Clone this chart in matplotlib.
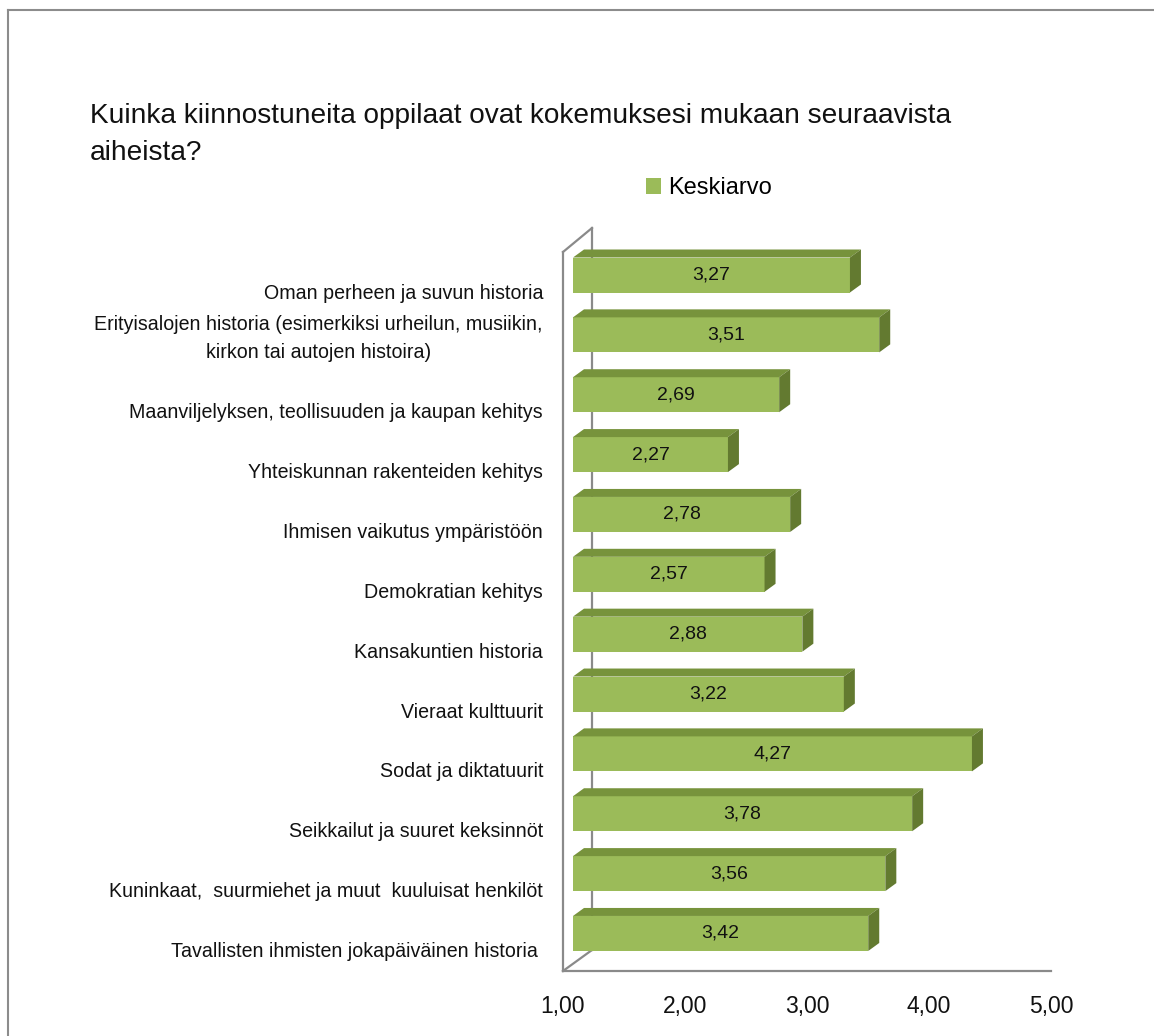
import matplotlib
matplotlib.use("Agg")
import matplotlib.pyplot as plt
from matplotlib.patches import Polygon
from matplotlib.lines import Line2D

plt.rcParams["font.family"] = ["Liberation Sans", "DejaVu Sans"]

# Aiheet ylhäältä alas ja niiden keskiarvot
aiheet = [
    "Oman perheen ja suvun historia",
    "Erityisalojen historia (esimerkiksi urheilun, musiikin,\nkirkon tai autojen histoira)",
    "Maanviljelyksen, teollisuuden ja kaupan kehitys",
    "Yhteiskunnan rakenteiden kehitys",
    "Ihmisen vaikutus ympäristöön",
    "Demokratian kehitys",
    "Kansakuntien historia",
    "Vieraat kulttuurit",
    "Sodat ja diktatuurit",
    "Seikkailut ja suuret keksinnöt",
    "Kuninkaat,  suurmiehet ja muut  kuuluisat henkilöt",
    "Tavallisten ihmisten jokapäiväinen historia ",
]
keskiarvo = [3.27, 3.51, 2.69, 2.27, 2.78, 2.57, 2.88, 3.22, 4.27, 3.78, 3.56, 3.42]
x_ticks = [1, 2, 3, 4, 5]
x_labels = ["1,00", "2,00", "3,00", "4,00", "5,00"]

W, H = 1154, 1036
fig = plt.figure(figsize=(W / 100, H / 100), dpi=100)

# akselin pikselirajat
px_left, px_right = 563, 1051
px_top, px_floor = 228, 971
row_px = 59.86
first_row_px = 275
unit_px = (px_right - px_left) / 4.0

ax = fig.add_axes([px_left / W, 1 - px_floor / H,
                   (px_right - px_left) / W, (px_floor - px_top) / H])
y_top = (px_top - first_row_px) / row_px
y_floor = (px_floor - first_row_px) / row_px
ax.set_xlim(1, 5)
ax.set_ylim(y_floor, y_top)
for s in ax.spines.values():
    s.set_visible(False)

front = "#9bbb59"
top_c = "#77933c"
side_c = "#637a30"
wall = "#8a8a8a"

off = 10 / unit_px          # palkkien etupinta hieman syvemmällä
ddx = 11 / unit_px          # 3D-syvyys
ddy = 8 / row_px
bh = 35 / row_px

# takaseinän pystyviiva ja lattian viisto reuna
back_x = 1 + 29 / unit_px
back_floor = (950 - first_row_px) / row_px
front_top = (252 - first_row_px) / row_px
ax.plot([back_x, back_x], [back_floor, y_top], color=wall, lw=1.6, zorder=1, clip_on=False)
ax.plot([1, back_x], [y_floor, back_floor], color=wall, lw=1.6, zorder=1, clip_on=False)
ax.plot([1, back_x], [front_top, y_top], color=wall, lw=1.6, zorder=1, clip_on=False)
ax.plot([1, 1], [y_floor, front_top], color=wall, lw=1.6, zorder=5, clip_on=False)
ax.plot([1, 5], [y_floor, y_floor], color=wall, lw=1.6, zorder=5, clip_on=False)

ypos = list(range(len(aiheet)))
bars = ax.barh(ypos, [v - 1 for v in keskiarvo], left=1 + off, height=bh,
               color=front, edgecolor="none", zorder=3, label="Keskiarvo")

for i, v in enumerate(keskiarvo):
    x0 = 1 + off
    x1 = v + off
    yt = i - bh / 2
    yb = i + bh / 2
    ax.add_patch(Polygon([(x0, yt), (x1, yt), (x1 + ddx, yt - ddy), (x0 + ddx, yt - ddy)],
                         closed=True, facecolor=top_c, edgecolor="none", zorder=3))
    ax.add_patch(Polygon([(x1, yt), (x1 + ddx, yt - ddy), (x1 + ddx, yb - ddy), (x1, yb)],
                         closed=True, facecolor=side_c, edgecolor="none", zorder=3))
    ax.text((x0 + x1) / 2, i, f"{v:.2f}".replace(".", ","), ha="center", va="center",
            fontsize=14, color="#111111", zorder=6)
    ax.text(1 - 20 / unit_px, i + 0.46, aiheet[i], ha="right", va="bottom",
            fontsize=14.1, color="#111111", multialignment="center",
            linespacing=1.6, clip_on=False)

ax.set_yticks([])
ax.set_xticks(x_ticks)
ax.set_xticklabels(x_labels, fontsize=16.5, color="#111111")
ax.tick_params(axis="x", length=0, pad=17)

# otsikko
fig.text(90 / W, 1 - 123 / H, "Kuinka kiinnostuneita oppilaat ovat kokemuksesi mukaan seuraavista",
         fontsize=20.2, va="baseline", ha="left", color="#111111")
fig.text(90 / W, 1 - 160 / H, "aiheista?", fontsize=20.2, va="baseline", ha="left", color="#111111")

fig.legend(handles=[bars], labels=["Keskiarvo"], loc="upper left",
           bbox_to_anchor=(646 / W, 1 - 177 / H), frameon=False, fontsize=17,
           handlelength=0.64, handleheight=0.64, handletextpad=0.3,
           borderpad=0, borderaxespad=0)

# kaavion reunus
fig.add_artist(Line2D([8 / W, 1], [1 - 10 / H, 1 - 10 / H], transform=fig.transFigure,
                      color="#8c8c8c", lw=1.5))
fig.add_artist(Line2D([8 / W, 8 / W], [0, 1 - 10 / H], transform=fig.transFigure,
                      color="#8c8c8c", lw=1.5))

fig.savefig("out.png", dpi=100, facecolor="white")
